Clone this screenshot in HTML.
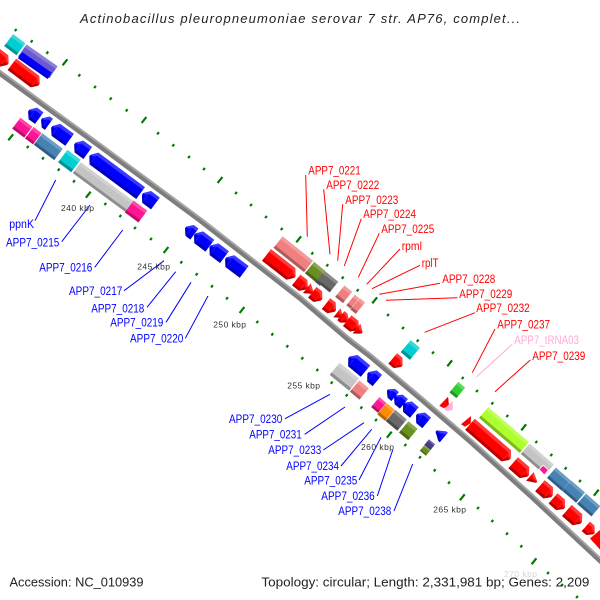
<!DOCTYPE html>
<html>
<head>
<meta charset="utf-8">
<style>
html,body{margin:0;padding:0;background:#fff}
svg{display:block}
text{font-family:"Liberation Sans",sans-serif}
.l{font-size:11.5px}
.tk{font-size:8.5px;fill:#333}
.bl{color:#0000ff}.rd{color:#ff0000}.pk{color:#ff1493}.st{color:#4682b4}.cy{color:#00ced1}
.gr{color:#c4c4c4}.sa{color:#f08080}.ol{color:#6b8e23}.dg{color:#696969}.or{color:#ff8c00}
.sl{color:#6a5acd}.ds{color:#483d8b}.li{color:#adff2f}.lg{color:#32cd32}
</style>
</head>
<body>
<svg width="600" height="600" viewBox="0 0 600 600" xmlns="http://www.w3.org/2000/svg">
<defs>
<g id="b"><rect x="0" y="-6.8" width="1" height="13.6" fill="currentColor"/><rect x="0" y="-6.8" width="1" height="3.2" fill="#fff" fill-opacity=".22"/><rect x="0" y="4" width="1" height="2.8" fill="#000" fill-opacity=".28"/></g>
<g id="h"><polygon points="0,-6.8 5,-1 5,1 0,6.8" fill="currentColor"/><polygon points="0,-6.8 5,-1 2,-1 0,-3.6" fill="#fff" fill-opacity=".22"/><polygon points="0,6.8 5,1 2,1 0,4" fill="#000" fill-opacity=".28"/></g>
</defs>
<rect width="600" height="600" fill="#fff"/>

<text x="80" y="23" font-size="13" font-style="italic" fill="#222" textLength="440" lengthAdjust="spacing">Actinobacillus pleuropneumoniae serovar 7 str. AP76, complet...</text>

<!-- ticks -->
<path fill="none" stroke="#007a00" stroke-width="2.2" d="M14.8,31.1l1.8-2.2M30.8,42.4l1.8-2.2M46.4,53.8l1.8-2.2M78.4,76.4l1.8-2.2M94.1,88.1l1.8-2.2M109.8,99.8l1.8-2.2M125.8,111.4l1.8-2.2M157.1,134.4l1.8-2.2M172.4,146.4l1.8-2.2M188.1,158.1l1.8-2.2M203.1,170.1l1.8-2.2M235.1,194.1l1.8-2.2M250.1,206.1l1.8-2.2M265.1,218.1l1.8-2.2M280.8,230.1l1.8-2.2M311.4,254.4l1.8-2.2M326.4,266.4l1.8-2.2M341.8,278.8l1.8-2.2M356.8,291.4l1.8-2.2M387.1,316.1l1.8-2.2M402.1,329.1l1.8-2.2M416.8,341.8l1.8-2.2M432.1,353.8l1.8-2.2M461.8,379.1l1.8-2.2M476.1,392.1l1.8-2.2M491.4,404.4l1.8-2.2M506.4,417.1l1.8-2.2M535.4,443.1l1.8-2.2M550.4,456.1l1.8-2.2M564.8,469.4l1.8-2.2M579.1,482.1l1.8-2.2M26.8,148.1l1.8-2.2M42.1,159.4l1.8-2.2M57.8,170.8l1.8-2.2M73.1,182.4l1.8-2.2M104.4,205.1l1.8-2.2M119.4,217.1l1.8-2.2M134.1,229.1l1.8-2.2M150.1,240.1l1.8-2.2M180.4,263.4l1.8-2.2M195.8,275.4l1.8-2.2M211.1,287.4l1.8-2.2M226.1,299.4l1.8-2.2M256.4,323.1l1.8-2.2M271.4,335.4l1.8-2.2M286.4,347.4l1.8-2.2M301.4,359.4l1.8-2.2M316.4,371.1l1.8-2.2M330.8,383.8l1.8-2.2M345.8,396.4l1.8-2.2M360.4,408.8l1.8-2.2M375.1,421.1l1.8-2.2M404.4,446.1l1.8-2.2M419.1,458.4l1.8-2.2M433.8,471.4l1.8-2.2M448.1,483.8l1.8-2.2M477.1,509.1l1.8-2.2M491.4,522.1l1.8-2.2M506.1,534.8l1.8-2.2M520.4,547.4l1.8-2.2M547.1,574.1l1.8-2.2M561.1,586.1l1.8-2.2M576.1,598.1l1.8-2.2"/>
<path fill="none" stroke="#007a00" stroke-width="2.2" d="M62.6,65.3l4.8-6M141.6,123l4.8-6M217.6,183l4.8-6M296.3,242.3l4.8-6M372.3,303.3l4.8-6M447.3,366.3l4.8-6M521.3,430.3l4.8-6M593.9,495.7l4.8-6M8.3,140.3l4.8-6M85.9,197.7l4.8-6M163.6,253l4.8-6M239.6,313l4.8-6M386.9,437.7l4.8-6M459.9,500.3l4.8-6M531.6,564.3l4.8-6"/>

<!-- backbone -->
<polyline fill="none" stroke="#7d7d7d" stroke-width="5.6" stroke-linejoin="round" points="-5,69.5 100,146 200,220 250,259 300,298 348,339 370,356 420,398 470,441 530,495 605,565"/>
<polyline fill="none" stroke="#a6a6a6" stroke-width="1.8" stroke-linejoin="round" transform="translate(1.2,-1.5)" points="-5,69.5 100,146 200,220 250,259 300,298 348,339 370,356 420,398 470,441 530,495 605,565"/>

<!-- top-left group -->
<use href="#b" class="cy" transform="translate(14.8,44.7) rotate(37) translate(-7.7,0) scale(15.4,1.1)"/>
<use href="#b" class="sl" transform="translate(37.9,61.3) rotate(35) translate(-19,0) scale(38,1.07)"/>
<g class="bl" transform="translate(35.2,65.1) rotate(35) translate(-18,0)"><rect width="36" height="7.4" y="-3.2" fill="#0000ff"/><rect width="36" height="2" y="2.2" fill="#0000c8"/></g>
<g class="rd" transform="translate(25.5,74.5) rotate(37) translate(-17,0)"><use href="#b" transform="scale(29,1.05)"/><use href="#h" transform="translate(29,0) scale(1,1.05)"/></g>
<g class="rd" transform="translate(0,58) rotate(37) translate(-10,0)"><use href="#b" transform="scale(15,1.05)"/><use href="#h" transform="translate(15,0) scale(1,1.05)"/></g>

<!-- blue upper strip, left -->
<g class="bl" transform="translate(34,114.3) rotate(36) scale(-1,1) translate(-6.5,0)"><use href="#b" transform="scale(8,1.05)"/><use href="#h" transform="translate(8,0) scale(1,1.05)"/></g>
<g class="bl" transform="translate(45.3,121.7) rotate(36) scale(-1,1) translate(-4.5,0)"><use href="#b" transform="scale(4,1)"/><use href="#h" transform="translate(4,0) scale(1,1)"/></g>
<g class="bl" transform="translate(60.7,133.3) rotate(36) scale(-1,1) translate(-11,0)"><use href="#b" transform="scale(17,1.08)"/><use href="#h" transform="translate(17,0) scale(1,1.08)"/></g>
<g class="bl" transform="translate(81.3,148.3) rotate(36) scale(-1,1) translate(-8,0)"><use href="#b" transform="scale(11,1.08)"/><use href="#h" transform="translate(11,0) scale(1,1.08)"/></g>
<g class="bl" transform="translate(115.3,174.3) rotate(36.5) scale(-1,1) translate(-31.5,0)"><use href="#b" transform="scale(58,1.08)"/><use href="#h" transform="translate(58,0) scale(1,1.08)"/></g>
<g class="bl" transform="translate(149,198.7) rotate(37) scale(-1,1) translate(-8,0)"><use href="#b" transform="scale(11,1.08)"/><use href="#h" transform="translate(11,0) scale(1,1.08)"/></g>

<use href="#b" class="pk" transform="translate(22.3,127.7) rotate(37) translate(-7.5,0) scale(15,1)"/>
<use href="#b" class="pk" transform="translate(33.3,135.7) rotate(37) translate(-5,0) scale(10,1.05)"/>
<use href="#b" class="st" transform="translate(48.3,146.7) rotate(37) translate(-12.8,0) scale(25.6,1.05)"/>
<use href="#b" class="cy" transform="translate(69.3,161) rotate(37) translate(-8.2,0) scale(16.5,1.15)"/>
<use href="#b" class="gr" transform="translate(103,187) rotate(36.5) translate(-32.5,0) scale(65,1)"/>
<use href="#b" class="pk" transform="translate(136,211.5) rotate(36.5) translate(-8.5,0) scale(17,1.08)"/>

<!-- C cluster -->
<g class="bl" transform="translate(190,230.7) rotate(37) scale(-1,1) translate(-5.5,0)"><use href="#b" transform="scale(6,1)"/><use href="#h" transform="translate(6,0)"/></g>
<g class="bl" transform="translate(202.3,240) rotate(37) scale(-1,1) translate(-9.5,0)"><use href="#b" transform="scale(14,1.08)"/><use href="#h" transform="translate(14,0) scale(1,1.08)"/></g>
<g class="bl" transform="translate(217.3,251.7) rotate(37) scale(-1,1) translate(-9,0)"><use href="#b" transform="scale(13,1.08)"/><use href="#h" transform="translate(13,0) scale(1,1.08)"/></g>
<g class="bl" transform="translate(235,265) rotate(37) scale(-1,1) translate(-11.5,0)"><use href="#b" transform="scale(18,1.08)"/><use href="#h" transform="translate(18,0) scale(1,1.08)"/></g>

<!-- mid upper group -->
<use href="#b" class="sa" transform="translate(293.3,254.3) rotate(38.5) translate(-19.5,0) scale(39,1.08)"/>
<use href="#b" class="ol" transform="translate(315,272) rotate(39) translate(-7,0) scale(14,1.08)"/>
<use href="#b" class="dg" transform="translate(322.3,278.3) rotate(39) translate(-3,0) scale(6,1.08)"/>
<use href="#b" class="dg" transform="translate(329.3,283.3) rotate(39) translate(-6,0) scale(12,1)"/>
<use href="#b" class="sa" transform="translate(343.7,294.3) rotate(39) translate(-5,0) scale(10,1.08)"/>
<use href="#b" class="sa" transform="translate(352.7,301.7) rotate(39) translate(-2.7,0) scale(5.5,1)"/>
<use href="#b" class="sa" transform="translate(357.7,306) rotate(39) translate(-3.5,0) scale(7,1.08)"/>

<g class="rd" transform="translate(280.7,266) rotate(38) translate(-18,0)"><use href="#b" transform="scale(31,1.08)"/><use href="#h" transform="translate(31,0) scale(1,1.08)"/></g>
<g class="rd" transform="translate(301.7,284.3) rotate(38) translate(-7,0)"><use href="#b" transform="scale(9,1)"/><use href="#h" transform="translate(9,0)"/></g>
<g class="rd" transform="translate(310,290.7) rotate(38) translate(-4,0)"><use href="#h" transform="scale(1.6,.92)"/></g>
<g class="rd" transform="translate(317,296) rotate(38) translate(-6,0)"><use href="#b" transform="scale(7,1)"/><use href="#h" transform="translate(7,0)"/></g>
<g class="rd" transform="translate(330.7,307.3) rotate(38) translate(-6,0)"><use href="#b" transform="scale(7,1)"/><use href="#h" transform="translate(7,0)"/></g>
<g class="rd" transform="translate(339.7,315) rotate(38) translate(-3.5,0)"><use href="#h" transform="scale(1.4,.85)"/></g>
<g class="rd" transform="translate(344.7,318.7) rotate(38) translate(-5,0)"><use href="#b" transform="scale(4,.85)"/><use href="#h" transform="translate(4,0) scale(1.2,.85)"/></g>
<g class="rd" transform="translate(352.7,325) rotate(38) translate(-7,0)"><use href="#b" transform="scale(9,1)"/><use href="#h" transform="translate(9,0)"/></g>
<g class="rd" transform="translate(359.3,330.7) rotate(38) translate(-3.5,0)"><use href="#h" transform="scale(1.4,.92)"/></g>

<use href="#b" class="cy" transform="translate(410.3,350) rotate(40) translate(-6,0) scale(12,1.15)"/>
<g class="rd" transform="translate(397.3,362.3) rotate(40) translate(-6,0)"><use href="#b" transform="scale(7,1)"/><use href="#h" transform="translate(7,0)"/></g>

<!-- lower cluster -->
<g class="bl" transform="translate(357.3,364.3) rotate(40) scale(-1,1) translate(-10.7,0)"><use href="#b" transform="scale(16.5,1.08)"/><use href="#h" transform="translate(16.5,0) scale(1,1.08)"/></g>
<g class="bl" transform="translate(372.7,376.7) rotate(40) scale(-1,1) translate(-6,0)"><use href="#b" transform="scale(7,1.08)"/><use href="#h" transform="translate(7,0) scale(1,1.08)"/></g>
<use href="#b" class="gr" transform="translate(344.3,376.7) rotate(39) translate(-12.5,0) scale(25,1.15)"/>
<use href="#b" class="sa" transform="translate(359.3,390) rotate(40) translate(-6.2,0) scale(12.5,1.08)"/>
<g class="bl" transform="translate(391.3,393.3) rotate(40) scale(-1,1) translate(-5,0)"><use href="#b" transform="scale(5,.85)"/><use href="#h" transform="translate(5,0) scale(1,.85)"/></g>
<g class="bl" transform="translate(399.3,400) rotate(40) scale(-1,1) translate(-6,0)"><use href="#b" transform="scale(7,.92)"/><use href="#h" transform="translate(7,0) scale(1,.92)"/></g>
<g class="bl" transform="translate(409,408) rotate(40) scale(-1,1) translate(-7,0)"><use href="#b" transform="scale(9,1)"/><use href="#h" transform="translate(9,0)"/></g>
<g class="bl" transform="translate(421.7,418.7) rotate(40) scale(-1,1) translate(-6.5,0)"><use href="#b" transform="scale(8,1)"/><use href="#h" transform="translate(8,0)"/></g>
<g class="bl" transform="translate(440,434.3) rotate(40) scale(-1,1) translate(-5,0)"><use href="#b" transform="scale(2,.92)"/><use href="#h" transform="translate(2,0) scale(1.6,.92)"/></g>

<use href="#b" class="pk" transform="translate(378.7,405) rotate(40) translate(-4.5,0) scale(9,.95)"/>
<use href="#b" class="or" transform="translate(386,412) rotate(40) translate(-5.2,0) scale(10.5,1.08)"/>
<use href="#b" class="dg" transform="translate(396.3,420.3) rotate(40) translate(-7.5,0) scale(15,1.08)"/>
<use href="#b" class="ol" transform="translate(408.3,430.7) rotate(40) translate(-6,0) scale(12,1.08)"/>
<use href="#b" class="ds" transform="translate(429.7,444.7) rotate(40) translate(-4,0) scale(8,.55)"/>
<use href="#b" class="ol" transform="translate(425.3,450.3) rotate(40) translate(-4,0) scale(8,.55)"/>
<use href="#b" class="lg" transform="translate(457.3,390) rotate(40) translate(-4.5,0) scale(9,1)"/>

<polygon points="448,396.7 449,406.7 443.3,408 439.3,405.7" fill="#f00"/>
<polygon points="448,396.7 449,406.7 446.5,402" fill="#c00"/>
<polygon points="452.7,401 452.7,410 446.7,411 444,409" fill="#ffb0d8"/>
<polygon points="471,416 470.7,423.3 465,426.7 461,424.3" fill="#f00"/>

<!-- right group -->
<use href="#b" class="li" transform="translate(504,430) rotate(40.7) translate(-26.9,0) scale(53.7,1.04)"/>
<g class="rd" transform="translate(490,441.7) rotate(41) translate(-26.5,0)"><use href="#b" transform="scale(48,1.08)"/><use href="#h" transform="translate(48,0) scale(1,1.08)"/></g>
<use href="#b" class="gr" transform="translate(537.3,459.3) rotate(41) translate(-16,0) scale(32,1)"/>
<polygon points="543.3,465.3 548.3,470 544.3,475 539,469.3" fill="#ff1493" stroke="#fff" stroke-width=".8"/>
<use href="#b" class="st" transform="translate(559,479.3) rotate(41) translate(-10,0) scale(19.6,1)"/>
<use href="#b" class="st" transform="translate(573.7,491.7) rotate(41) translate(-9.5,0) scale(18.6,1)"/>
<use href="#b" class="st" transform="translate(588.7,505) rotate(41) translate(-9.5,0) scale(19,1)"/>
<g class="rd" transform="translate(520.7,469.3) rotate(41) translate(-10,0)"><use href="#b" transform="scale(15,1.08)"/><use href="#h" transform="translate(15,0) scale(1,1.08)"/></g>
<g class="rd" transform="translate(533.3,479.3) rotate(41) translate(-4.5,0)"><use href="#h" transform="scale(1.8,.85)"/></g>
<g class="rd" transform="translate(546,491) rotate(41) translate(-8,0)"><use href="#b" transform="scale(11,1.08)"/><use href="#h" transform="translate(11,0) scale(1,1.08)"/></g>
<g class="rd" transform="translate(558.7,503.3) rotate(41) translate(-7.5,0)"><use href="#b" transform="scale(10,1)"/><use href="#h" transform="translate(10,0)"/></g>
<g class="rd" transform="translate(574,516.7) rotate(41) translate(-9.5,0)"><use href="#b" transform="scale(14,1.08)"/><use href="#h" transform="translate(14,0) scale(1,1.08)"/></g>
<g class="rd" transform="translate(590,530) rotate(41) translate(-5.5,0)"><use href="#b" transform="scale(6,.92)"/><use href="#h" transform="translate(6,0) scale(1,.92)"/></g>
<polygon points="600,530 600,549.5 590,538.5" fill="#f00"/>

<!-- leaders -->
<path fill="none" stroke="#0000ff" stroke-width="1" d="M55.7,180L35,220.7M90,205L61.7,241.7M122.7,230L94.7,267.3M164,260.7L124,290.7M175.7,271.7L147,307.3M191,282.3L166,322.3M208,296L185.3,338.3M330,394.3L285,418.7M345,407L304.7,434.3M364,422.7L323.3,450M371.7,429.3L341,466M381,437.3L359,480M392.7,450L377.3,496M412.7,464L394,511"/>
<path fill="none" stroke="#ff0000" stroke-width="1" d="M307.3,236.7L305.7,175M330,254.3L323.7,189.3M337.7,260.7L342.7,204.3M344.3,266L361.3,218.7M358.3,277.3L379.3,233.3M366.7,284.3L400,249M372,288.7L420,265.3M379.3,294.3L440,283.3M386,300.3L457.3,297.7M424.7,332.3L475,312.7M472.3,372.7L495,329M495,391.7L530.3,360"/>
<path fill="none" stroke="#ffaad5" stroke-width="1" d="M476.7,376.7L512.3,344.3"/>

<!-- gene labels -->
<g class="l" fill="#0000ff">
<text x="9.3" y="228" textLength="24.7" lengthAdjust="spacingAndGlyphs">ppnK</text>
<text x="6" y="246.7" textLength="53.3" lengthAdjust="spacingAndGlyphs">APP7_0215</text>
<text x="39.3" y="271.7" textLength="53" lengthAdjust="spacingAndGlyphs">APP7_0216</text>
<text x="69" y="295" textLength="53.3" lengthAdjust="spacingAndGlyphs">APP7_0217</text>
<text x="91.3" y="312.7" textLength="53" lengthAdjust="spacingAndGlyphs">APP7_0218</text>
<text x="110.3" y="326.7" textLength="53" lengthAdjust="spacingAndGlyphs">APP7_0219</text>
<text x="130" y="342.7" textLength="53.3" lengthAdjust="spacingAndGlyphs">APP7_0220</text>
<text x="229" y="423" textLength="53.3" lengthAdjust="spacingAndGlyphs">APP7_0230</text>
<text x="249.3" y="438.7" textLength="52.4" lengthAdjust="spacingAndGlyphs">APP7_0231</text>
<text x="268.3" y="454" textLength="53" lengthAdjust="spacingAndGlyphs">APP7_0233</text>
<text x="286.3" y="470" textLength="52.7" lengthAdjust="spacingAndGlyphs">APP7_0234</text>
<text x="304.3" y="484.7" textLength="53" lengthAdjust="spacingAndGlyphs">APP7_0235</text>
<text x="321.3" y="500" textLength="53.4" lengthAdjust="spacingAndGlyphs">APP7_0236</text>
<text x="338.3" y="515" textLength="53" lengthAdjust="spacingAndGlyphs">APP7_0238</text>
</g>
<g class="l" fill="#ff0000">
<text x="308.3" y="174.7" textLength="52.4" lengthAdjust="spacingAndGlyphs">APP7_0221</text>
<text x="326.3" y="189" textLength="53" lengthAdjust="spacingAndGlyphs">APP7_0222</text>
<text x="345.3" y="204" textLength="53" lengthAdjust="spacingAndGlyphs">APP7_0223</text>
<text x="363.3" y="218" textLength="52.7" lengthAdjust="spacingAndGlyphs">APP7_0224</text>
<text x="381.3" y="233" textLength="53" lengthAdjust="spacingAndGlyphs">APP7_0225</text>
<text x="401.7" y="250" textLength="20.6" lengthAdjust="spacingAndGlyphs">rpmI</text>
<text x="421.7" y="267" textLength="17" lengthAdjust="spacingAndGlyphs">rplT</text>
<text x="442.3" y="283" textLength="53" lengthAdjust="spacingAndGlyphs">APP7_0228</text>
<text x="459.3" y="298" textLength="53" lengthAdjust="spacingAndGlyphs">APP7_0229</text>
<text x="476.3" y="312" textLength="53.4" lengthAdjust="spacingAndGlyphs">APP7_0232</text>
<text x="497.3" y="328.7" textLength="52.7" lengthAdjust="spacingAndGlyphs">APP7_0237</text>
<text x="514.3" y="344" textLength="64.7" lengthAdjust="spacingAndGlyphs" fill="#ffaad5">APP7_tRNA03</text>
<text x="532.3" y="360" textLength="53" lengthAdjust="spacingAndGlyphs">APP7_0239</text>
</g>

<!-- tick labels -->
<text class="tk" x="61" y="211" textLength="33" lengthAdjust="spacing">240 kbp</text>
<text class="tk" x="137.3" y="269.3" textLength="32.7" lengthAdjust="spacing">245 kbp</text>
<text class="tk" x="213.3" y="327.7" textLength="32.7" lengthAdjust="spacing">250 kbp</text>
<text class="tk" x="287.3" y="388.7" textLength="32.7" lengthAdjust="spacing">255 kbp</text>
<text class="tk" x="361" y="450" textLength="33" lengthAdjust="spacing">260 kbp</text>
<text class="tk" x="433.3" y="512.7" textLength="32.7" lengthAdjust="spacing">265 kbp</text>
<text class="tk" x="504" y="577" textLength="33" lengthAdjust="spacing" style="fill:#d4d4d4">270 kbp</text>

<text x="9.5" y="586.7" font-size="13" fill="#222" textLength="134" lengthAdjust="spacingAndGlyphs">Accession: NC_010939</text>
<text x="261.4" y="586.7" font-size="13" fill="#222" textLength="328" lengthAdjust="spacingAndGlyphs">Topology: circular; Length: 2,331,981 bp; Genes: 2,209</text>
</svg>
</body>
</html>
